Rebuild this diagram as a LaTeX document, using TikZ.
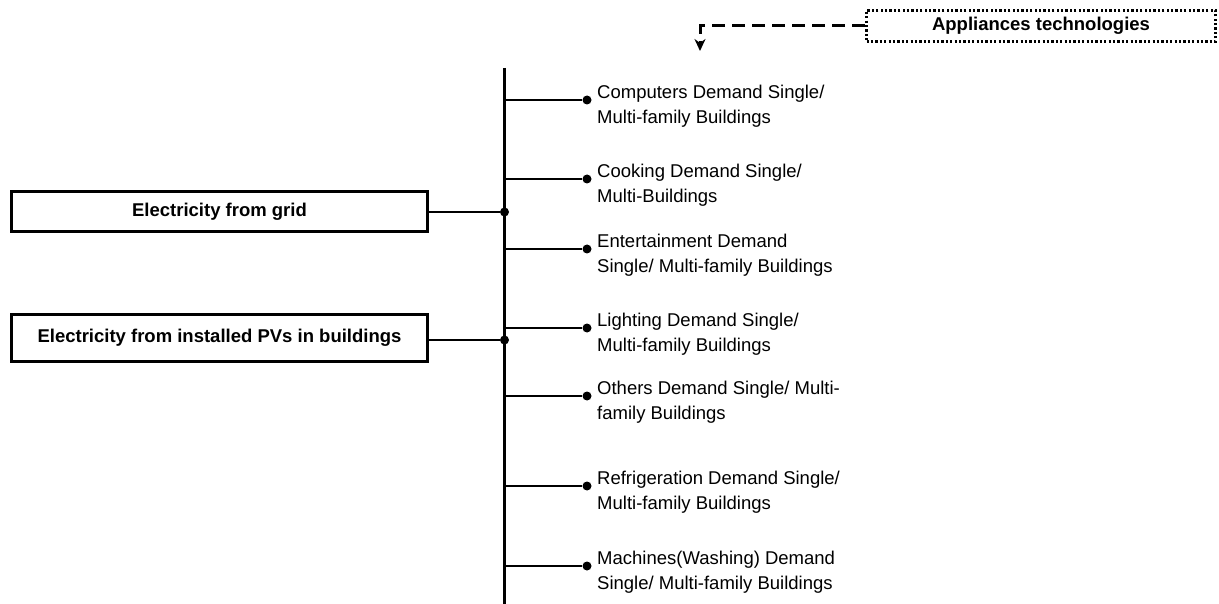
\documentclass[tikz,border=0pt]{standalone}
\usepackage{fontspec}
\setmainfont{Liberation Sans}
\usetikzlibrary{arrows.meta}
\begin{document}
\begin{tikzpicture}[x=1pt,y=-1pt,
  srcbox/.style={draw, line width=3pt, minimum width=416pt, inner sep=0pt,
    font=\bfseries\fontsize{18.5}{22}\selectfont},
  appbox/.style={draw, line width=3pt, dash pattern=on 2.2pt off 2.2pt, minimum width=349pt,
    minimum height=31pt, inner sep=0pt, font=\bfseries\fontsize{18.5}{22}\selectfont},
  busline/.style={line width=3.5pt},
  branch/.style={line width=2.6pt},
  joint/.style={circle, fill=black, inner sep=0pt, minimum size=9pt},
  demand/.style={anchor=west, align=left, inner sep=0pt, font=\fontsize{18.5}{25}\selectfont},
  dashline/.style={line width=3pt, dash pattern=on 13pt off 7pt, -{Stealth[length=12pt,width=11pt]}}
]
\useasboundingbox (0,0) rectangle (1219,604);

% sources
\node[srcbox, minimum height=40pt] (grid) at (219.5,211.5) {Electricity from grid};
\node[srcbox, minimum height=46.5pt] (pv) at (219.5,338) {Electricity from installed PVs in buildings};

% bus
\coordinate (bustop) at (504.5,68);
\coordinate (busbot) at (504.5,604);
\draw[busline] (bustop) -- (busbot);

% junctions on bus
\node[joint] (jgrid) at (504.5,212) {};
\node[joint] (jpv) at (504.5,340) {};
\draw[branch] (grid.east |- jgrid) -- (jgrid);
\draw[branch] (pv.east |- jpv) -- (jpv);

% branches
\foreach \n/\y/\t in {
  c1/100/{Computers Demand Single/\\Multi-family Buildings},
  c2/179/{Cooking Demand Single/\\Multi-Buildings},
  c3/249/{Entertainment Demand\\Single/ Multi-family Buildings},
  c4/328/{Lighting Demand Single/\\Multi-family Buildings},
  c5/396/{Others Demand Single/ Multi-\\family Buildings},
  c6/486/{Refrigeration Demand Single/\\Multi-family Buildings},
  c7/566/{Machines(Washing) Demand\\Single/ Multi-family Buildings}}
{
  \coordinate (b\n) at (504.5,\y);
  \node[joint] (d\n) at (587,\y) {};
  \draw[branch] (b\n) -- (d\n);
  \node[demand] (t\n) at (597,\y+6) {\t};
}

% appliances
\node[appbox] (app) at (1041,26) {Appliances technologies};
\coordinate (arrtip) at (700,51);
\draw[dashline] (app.west) -| (arrtip);
\end{tikzpicture}
\end{document}
